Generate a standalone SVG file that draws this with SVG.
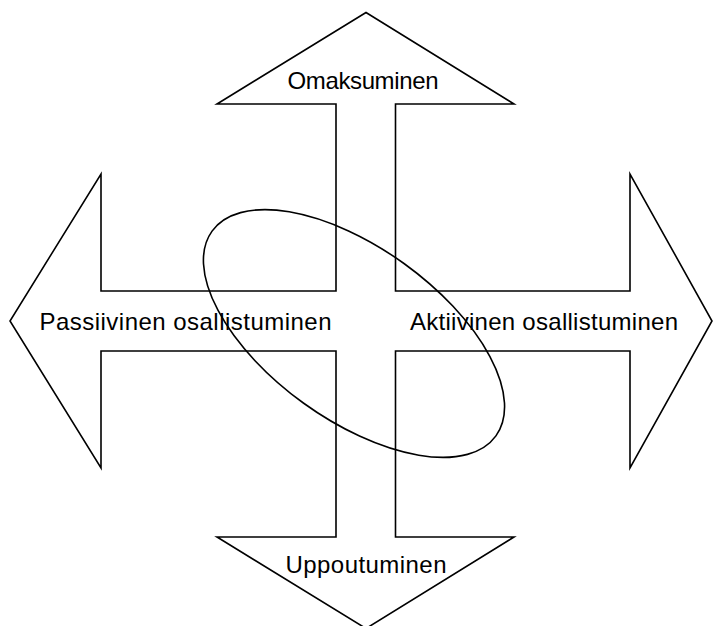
<svg xmlns="http://www.w3.org/2000/svg" width="713" height="626" viewBox="0 0 713 626">
  <style>
    .outline { fill: #ffffff; stroke: #000000; stroke-width: 1.6; stroke-linejoin: miter; }
    .ring { fill: none; stroke: #000000; stroke-width: 1.6; }
    .label { font-family: "Liberation Sans", Arial, sans-serif; font-size: 24px; fill: #000000; text-anchor: middle; }
  </style>
  <rect width="713" height="626" fill="#ffffff"/>

  <!-- four-way arrow outline -->
  <g id="four-way-arrow">
    <polygon class="outline" points="366,12.5 514,104 395.5,104 395.5,291 630,291 630,174 712,321 630,468 630,351 395.5,351 395.5,537 514,537 366,628.5 217,537 336,537 336,351 101,351 101,468 10,321 101,174 101,291 336,291 336,104 217,104"/>
  </g>

  <!-- arm labels -->
  <g id="label-top">
    <text class="label" x="363" y="89" textLength="151" lengthAdjust="spacing">Omaksuminen</text>
  </g>
  <g id="label-bottom">
    <text class="label" x="366" y="573" textLength="161" lengthAdjust="spacing">Uppoutuminen</text>
  </g>
  <g id="label-left">
    <text class="label" x="185.5" y="330" textLength="292" lengthAdjust="spacing">Passiivinen osallistuminen</text>
  </g>
  <g id="label-right">
    <text class="label" x="544" y="329.5" textLength="268" lengthAdjust="spacing">Aktiivinen osallistuminen</text>
  </g>

  <!-- tilted ellipse across the centre -->
  <g id="ellipse">
    <ellipse class="ring" cx="354" cy="333.5" rx="175" ry="86" transform="rotate(35.8 354 333.5)"/>
  </g>
</svg>
